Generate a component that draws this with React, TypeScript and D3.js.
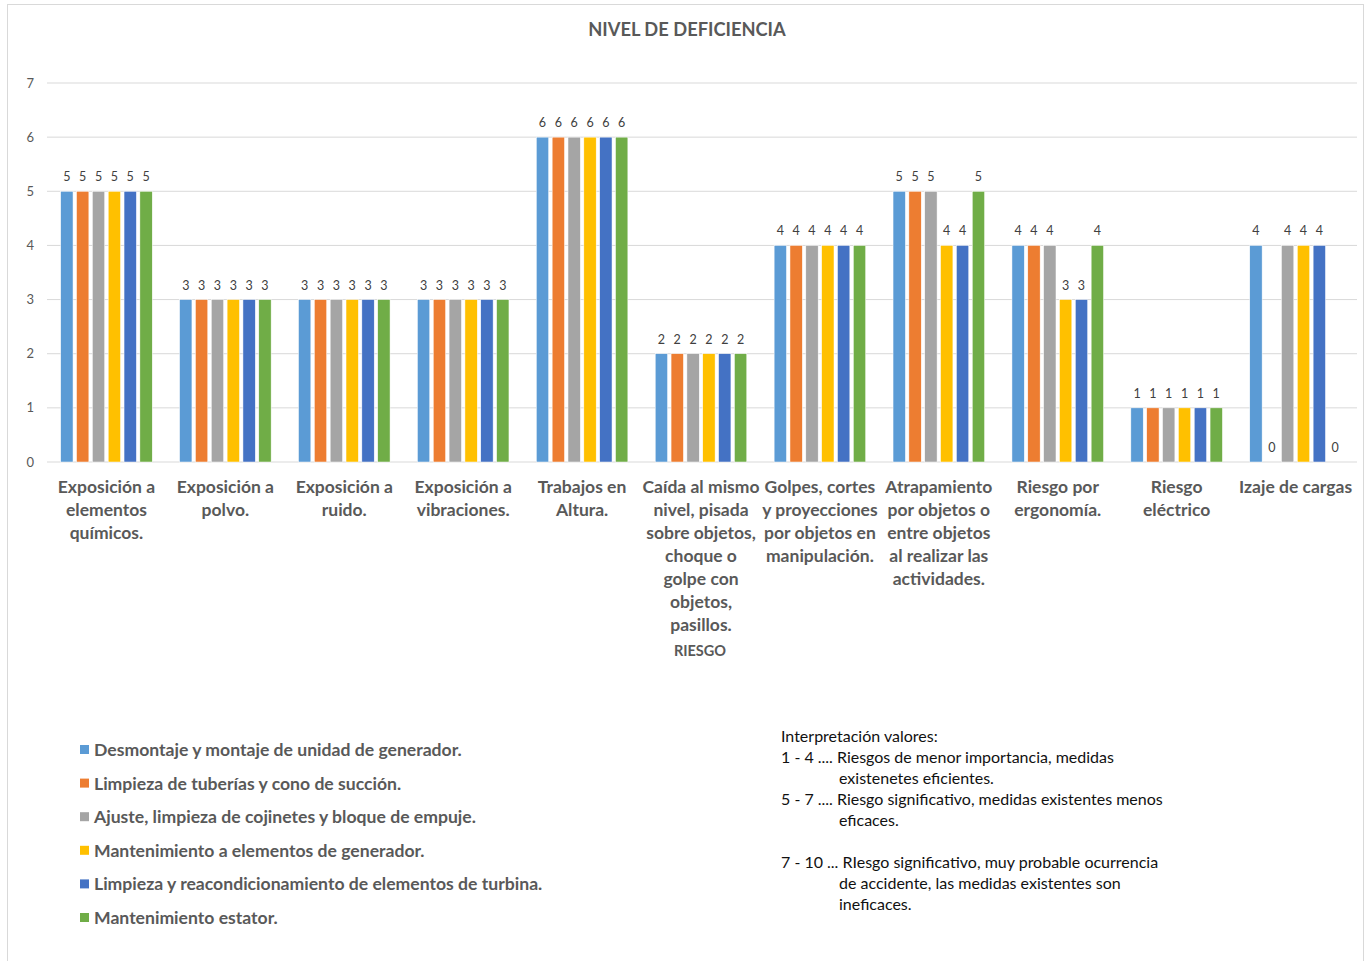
import React from 'react';
import * as d3 from 'd3';

// categories (wrapped the same way as the original axis labels)
const categoryLines: string[][] = [
  ['Exposición a', 'elementos', 'químicos.'],
  ['Exposición  a', 'polvo.'],
  ['Exposición a', 'ruido.'],
  ['Exposición a', 'vibraciones.'],
  ['Trabajos en', 'Altura.'],
  ['Caída al mismo', 'nivel, pisada', 'sobre objetos,', 'choque o', 'golpe con', 'objetos,', 'pasillos.'],
  ['Golpes, cortes', 'y proyecciones', 'por objetos en', 'manipulación.'],
  ['Atrapamiento', 'por objetos o', 'entre objetos', 'al realizar las', 'actividades.'],
  ['Riesgo por', 'ergonomía.'],
  ['Riesgo', 'eléctrico'],
  ['Izaje de cargas'],
];

const seriesNames = [
  'Desmontaje y montaje de unidad de generador.',
  'Limpieza de tuberías y cono de succión.',
  'Ajuste, limpieza de cojinetes y bloque de empuje.',
  'Mantenimiento a elementos de generador.',
  'Limpieza y reacondicionamiento de elementos de turbina.',
  'Mantenimiento estator.',
];

const desmontaje = [5, 3, 3, 3, 6, 2, 4, 5, 4, 1, 4];
const limpiezaTuberias = [5, 3, 3, 3, 6, 2, 4, 5, 4, 1, 0];
const ajuste = [5, 3, 3, 3, 6, 2, 4, 5, 4, 1, 4];
const mantGenerador = [5, 3, 3, 3, 6, 2, 4, 4, 3, 1, 4];
const limpiezaTurbina = [5, 3, 3, 3, 6, 2, 4, 4, 3, 1, 4];
const estator = [5, 3, 3, 3, 6, 2, 4, 5, 4, 1, 0];

const yTicks = [0, 1, 2, 3, 4, 5, 6, 7];

const interpretation = [
  { text: 'Interpretación valores:', indent: false },
  { text: '1 - 4 .... Riesgos de menor importancia, medidas', indent: false },
  { text: 'existenetes eficientes.', indent: true },
  { text: '5 - 7 .... Riesgo significativo, medidas existentes menos', indent: false },
  { text: 'eficaces.', indent: true },
  { text: '', indent: false },
  { text: '7 - 10 ... RIesgo significativo, muy probable ocurrencia', indent: false },
  { text: 'de accidente, las medidas existentes son', indent: true },
  { text: 'ineficaces.', indent: true },
];

const colors = ['#5B9BD5', '#ED7D31', '#A5A5A5', '#FFC000', '#4472C4', '#70AD47'];

const seriesValues = [desmontaje, limpiezaTuberias, ajuste, mantGenerador, limpiezaTurbina, estator];

const W = 1371;
const H = 961;
const left = 47;
const right = 1355;
const top = 83;
const bottom = 462;
const font = 'Lato, "Open Sans", sans-serif';
const textGray = '#595959';

const App = () => {
  const cats = categoryLines.map((_, i) => String(i));

  const x0 = d3.scaleBand().domain(cats).range([left, right]).padding(0);
  const groupW = x0.bandwidth() * 0.77;
  const x1 = d3
    .scaleBand()
    .domain(seriesNames)
    .range([0, groupW])
    .paddingInner(0.22)
    .paddingOuter(0);
  const y = d3.scaleLinear().domain([0, 7]).range([bottom, top]);

  return (
    <svg
      width={W}
      height={H}
      style={{ position: 'absolute', left: 0, top: 0, background: '#fff' }}
      fontFamily={font}
    >
      <rect x={7.5} y={4.5} width={1356} height={H} fill="#fff" stroke="#d9d9d9" />

      <text x={687} y={36} textAnchor="middle" fontSize={18.3} fontWeight="bold" fill={textGray}>
        NIVEL DE DEFICIENCIA
      </text>

      {/* gridlines and y labels */}
      {yTicks.map((t) => (
        <g key={t}>
          <line x1={left} x2={right + 2} y1={y(t)} y2={y(t)} stroke="#d9d9d9" strokeWidth={1} />
          <text x={34} y={y(t) + 4.5} textAnchor="end" fontSize={13} fill={textGray}>
            {t}
          </text>
        </g>
      ))}

      {/* bars */}
      {cats.map((c, ci) => {
        const gx = x0(c)! + (x0.bandwidth() - groupW) / 2;
        return (
          <g key={c}>
            {seriesNames.map((s, si) => {
              const v = seriesValues[si][ci];
              const bx = gx + x1(s)!;
              return (
                <g key={s}>
                  {v > 0 && (
                    <rect
                      x={bx}
                      y={y(v)}
                      width={x1.bandwidth()}
                      height={y(0) - y(v)}
                      fill={colors[si]}
                      stroke="#fff"
                      strokeWidth={0.5}
                    />
                  )}
                  <text
                    x={bx + x1.bandwidth() / 2}
                    y={y(v) - 10}
                    textAnchor="middle"
                    fontSize={12.5}
                    fill="#404040"
                  >
                    {v}
                  </text>
                </g>
              );
            })}
          </g>
        );
      })}

      {/* category labels */}
      {categoryLines.map((lines, ci) => (
        <text
          key={ci}
          textAnchor="middle"
          fontSize={17.5}
          fontWeight="bold"
          fill={textGray}
        >
          {lines.map((l, li) => (
            <tspan key={li} x={x0(String(ci))! + x0.bandwidth() / 2} y={493 + li * 23}>
              {l}
            </tspan>
          ))}
        </text>
      ))}

      <text x={(left + right) / 2 - 1} y={656} textAnchor="middle" fontSize={14.5} fontWeight="bold" fill={textGray}>
        RIESGO
      </text>

      {/* legend */}
      {seriesNames.map((s, si) => (
        <g key={s} transform={`translate(80, ${750 + si * 33.6})`}>
          <rect x={0} y={-5} width={9} height={9} fill={colors[si]} />
          <text x={14} y={6} fontSize={17.6} fontWeight="bold" fill={textGray}>
            {s}
          </text>
        </g>
      ))}

      {/* interpretation box */}
      {interpretation.map((row, i) => (
        <text
          key={i}
          x={row.indent ? 839 : 781}
          y={742 + i * 21}
          fontSize={16}
          fill="#111"
        >
          {row.text}
        </text>
      ))}
    </svg>
  );
};

export default App;
